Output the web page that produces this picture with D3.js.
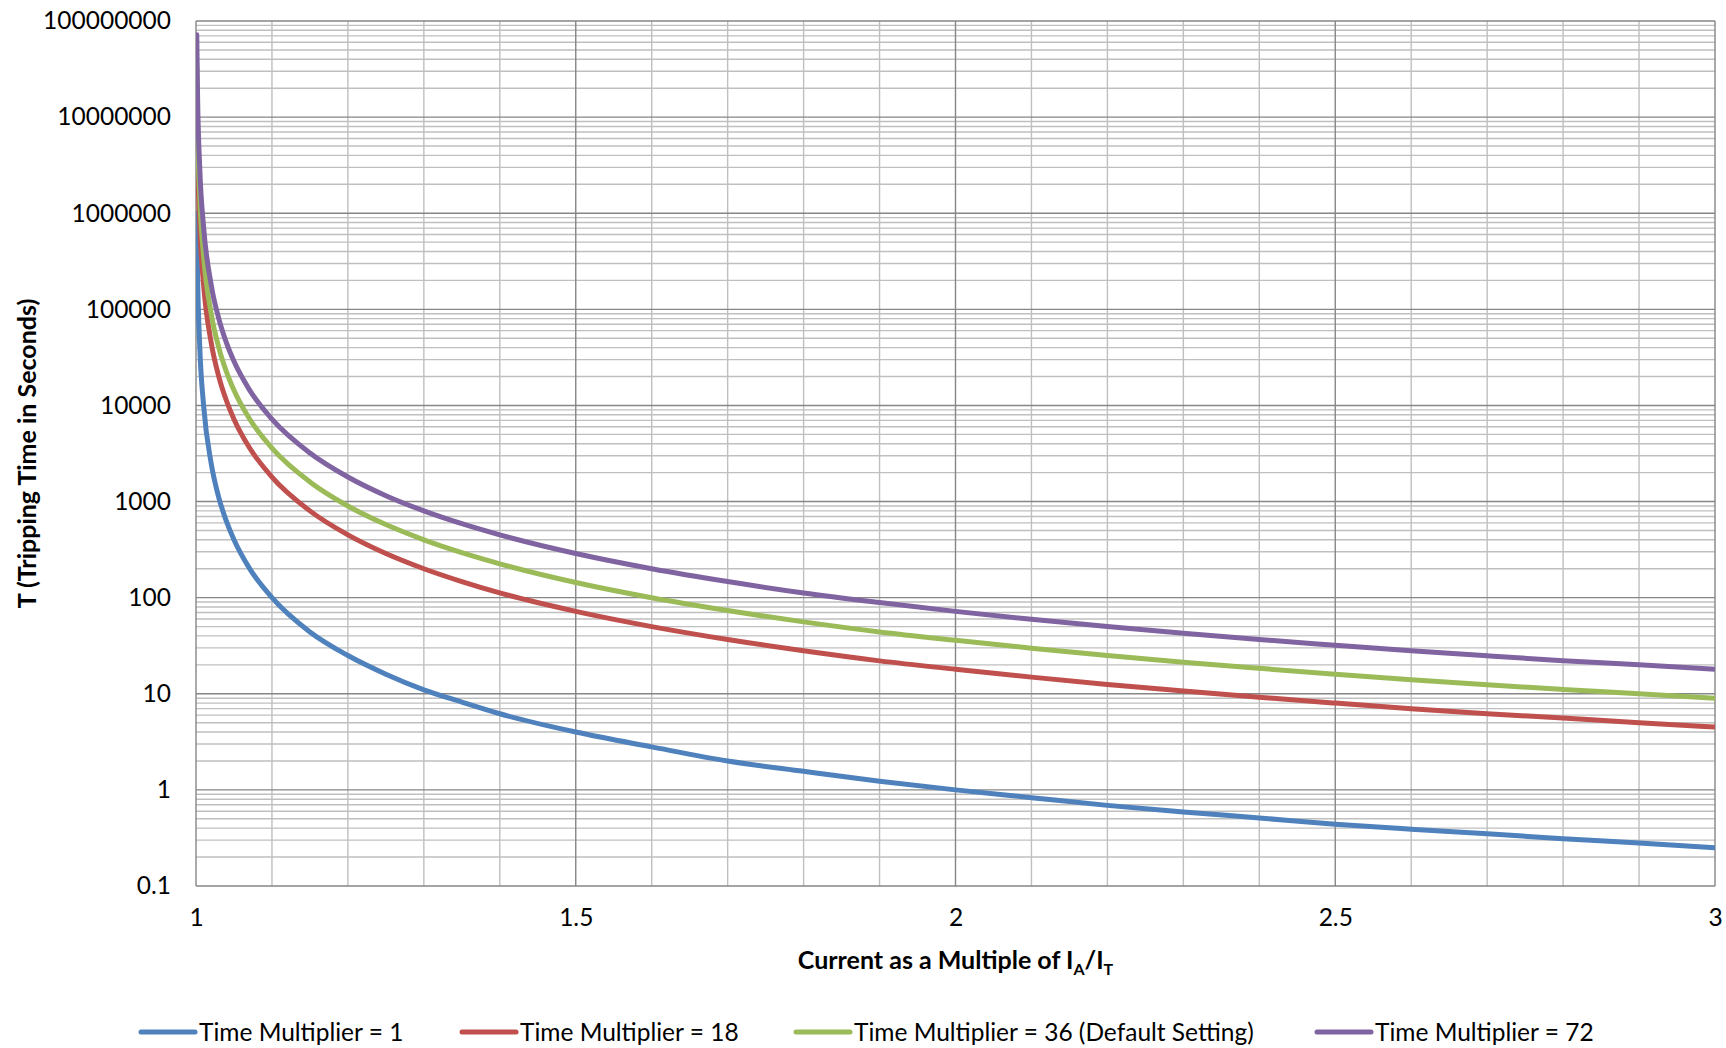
<!DOCTYPE html>
<meta charset="utf-8">
<style>
body { margin: 0; background: #fff; }
svg { display: block; }
text { font-family: Lato, "Open Sans", "Liberation Sans", sans-serif; fill: #000; }
</style>
<svg width="1726" height="1048"></svg>
<script src="https://cdn.jsdelivr.net/npm/d3@7"></script>
<script>

// current as a multiple of IA/IT
var current = [1.001, 1.002, 1.005, 1.01, 1.02, 1.03, 1.04, 1.05, 1.07, 1.1, 1.15, 1.2, 1.25, 1.3, 1.35, 1.4,
  1.5, 1.6, 1.7, 1.8, 1.9, 2, 2.1, 2.2, 2.3, 2.4, 2.5, 2.6, 2.7, 2.8, 2.9, 3];

// tripping time in seconds
var tm1 = [1000000, 250000, 40000, 10000, 2500, 1100, 625, 400, 204, 100, 44, 25, 16, 11, 8.2, 6.2,
  4, 2.8, 2.0, 1.56, 1.23, 1, 0.83, 0.69, 0.59, 0.51, 0.44, 0.39, 0.35, 0.31, 0.28, 0.25];
var tm18 = [18000000, 4500000, 720000, 180000, 45000, 20000, 11250, 7200, 3670, 1800, 800, 450, 288, 200, 147, 112,
  72, 50, 36.7, 28, 22, 18, 14.9, 12.5, 10.7, 9.2, 8, 7, 6.2, 5.6, 5, 4.5];
var tm36 = [36000000, 9000000, 1440000, 360000, 90000, 40000, 22500, 14400, 7350, 3600, 1600, 900, 576, 400, 294, 225,
  144, 100, 73.5, 56, 44, 36, 29.8, 25, 21.3, 18.4, 16, 14, 12.4, 11.1, 10, 9];
var tm72 = [72000000, 18000000, 2880000, 720000, 180000, 80000, 45000, 28800, 14700, 7200, 3200, 1800, 1150, 800, 588, 450,
  288, 200, 147, 112, 89, 72, 59.5, 50, 42.6, 36.7, 32, 28, 24.8, 22.1, 20, 18];

var seriesNames = ["Time Multiplier = 1", "Time Multiplier = 18", "Time Multiplier = 36 (Default Setting)", "Time Multiplier = 72"];
var seriesColors = ["#4F81BD", "#C0504D", "#9BBB59", "#8064A2"];
var xTicks = [1, 1.5, 2, 2.5, 3];
var yTicks = [0.1, 1, 10, 100, 1000, 10000, 100000, 1000000, 10000000, 100000000];

var series = [tm1, tm18, tm36, tm72].map(function(vals, i) {
  return {
    name: seriesNames[i],
    color: seriesColors[i],
    values: vals.map(function(v, j) { return {x: current[j], y: v}; })
  };
});

var plotLeft = 196, plotRight = 1715, plotTop = 21, plotBottom = 886;

var svg = d3.select("svg");

var x = d3.scaleLinear().domain([1, 3]).range([plotLeft, plotRight]);
var y = d3.scaleLog().domain([0.1, 100000000]).range([plotBottom, plotTop]);

// minor grid
var minorY = [];
yTicks.slice(0, -1).forEach(function(d) {
  for (var k = 2; k <= 9; k++) minorY.push(d * k);
});
var minorX = d3.range(1.1, 3, 0.1).filter(function(d) { return Math.abs(d * 2 - Math.round(d * 2)) > 0.01; });

var grid = svg.append("g");
grid.selectAll(".minor-y").data(minorY).enter().append("line")
  .attr("x1", plotLeft).attr("x2", plotRight)
  .attr("y1", function(d) { return y(d); }).attr("y2", function(d) { return y(d); })
  .attr("stroke", "#bfbfbf").attr("stroke-width", 1.4);
grid.selectAll(".minor-x").data(minorX).enter().append("line")
  .attr("y1", plotTop).attr("y2", plotBottom)
  .attr("x1", function(d) { return x(d); }).attr("x2", function(d) { return x(d); })
  .attr("stroke", "#bfbfbf").attr("stroke-width", 1.4);
grid.selectAll(".major-y").data(yTicks).enter().append("line")
  .attr("x1", plotLeft).attr("x2", plotRight)
  .attr("y1", function(d) { return y(d); }).attr("y2", function(d) { return y(d); })
  .attr("stroke", "#868686").attr("stroke-width", 1.4);
grid.selectAll(".major-x").data(xTicks).enter().append("line")
  .attr("y1", plotTop).attr("y2", plotBottom)
  .attr("x1", function(d) { return x(d); }).attr("x2", function(d) { return x(d); })
  .attr("stroke", "#868686").attr("stroke-width", 1.4);

// axes
var xAxis = svg.append("g")
  .attr("transform", "translate(0," + plotBottom + ")")
  .call(d3.axisBottom(x).tickValues(xTicks).tickSize(0).tickPadding(20).tickFormat(d3.format("")));
var yAxis = svg.append("g")
  .attr("transform", "translate(" + plotLeft + ",0)")
  .call(d3.axisLeft(y).tickValues(yTicks).tickSize(0).tickPadding(25).tickFormat(function(d) { return String(d); }));
[xAxis, yAxis].forEach(function(a) {
  a.select(".domain").remove();
  a.selectAll("text").style("font-size", "24.5px").style("font-family", null).attr("fill", "#000");
});
xAxis.selectAll("text").attr("dy", "0.8em");

// lines
svg.append("clipPath").attr("id", "clip").append("rect")
  .attr("x", plotLeft).attr("y", plotTop).attr("width", plotRight - plotLeft).attr("height", plotBottom - plotTop);

var line = d3.line()
  .x(function(d) { return x(d.x); })
  .y(function(d) { return y(d.y); })
  .curve(d3.curveMonotoneX);

svg.append("g").attr("clip-path", "url(#clip)")
  .selectAll("path").data(series).enter().append("path")
  .attr("d", function(d) { return line(d.values); })
  .attr("fill", "none")
  .attr("stroke", function(d) { return d.color; })
  .attr("stroke-width", 5)
  .attr("stroke-linejoin", "round")
  .attr("stroke-linecap", "round");

// axis titles
var xt = svg.append("text")
  .attr("x", (plotLeft + plotRight) / 2).attr("y", 969)
  .attr("text-anchor", "middle")
  .style("font-size", "25px").style("font-weight", "bold");
xt.append("tspan").text("Current as a Multiple of I");
xt.append("tspan").text("A").attr("dy", 6).style("font-size", "16px");
xt.append("tspan").text("/I").attr("dy", -6);
xt.append("tspan").text("T").attr("dy", 6).style("font-size", "16px");

svg.append("text")
  .attr("transform", "translate(36," + (plotTop + plotBottom) / 2 + ") rotate(-90)")
  .attr("text-anchor", "middle")
  .style("font-size", "25px").style("font-weight", "bold")
  .text("T (Tripping Time in Seconds)");

// legend
var legendX = [141, 462, 796, 1317];
var legend = svg.selectAll(".legend").data(series).enter().append("g")
  .attr("transform", function(d, i) { return "translate(" + legendX[i] + ",1032)"; });
legend.append("line")
  .attr("x1", 0).attr("x2", 54).attr("y1", 0).attr("y2", 0)
  .attr("stroke", function(d) { return d.color; })
  .attr("stroke-width", 5).attr("stroke-linecap", "round");
legend.append("text")
  .attr("x", 58).attr("y", 0).attr("dy", "0.35em")
  .style("font-size", "24.5px")
  .text(function(d) { return d.name; });

</script>
